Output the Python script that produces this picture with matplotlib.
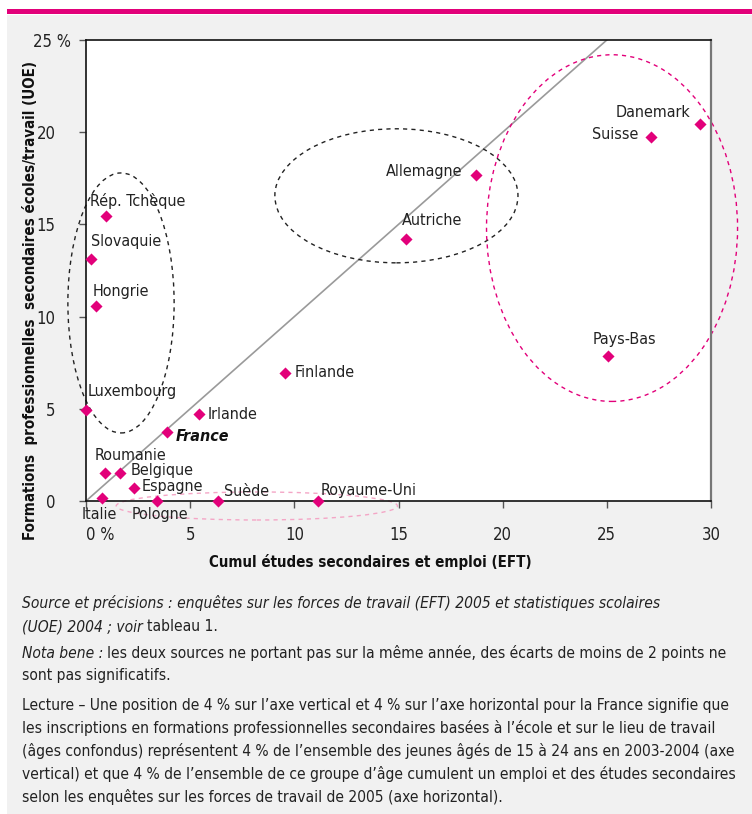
import matplotlib
matplotlib.use('Agg')
import matplotlib.pyplot as plt
from matplotlib.patches import Ellipse, Rectangle
from matplotlib.transforms import ScaledTranslation

plt.rcParams['font.family'] = ['DejaVu Sans']
plt.rcParams['font.stretch'] = 'condensed'

# data
pays = ['Rép. Tchèque', 'Slovaquie', 'Hongrie', 'Luxembourg', 'Irlande', 'France',
        'Roumanie', 'Belgique', 'Espagne', 'Italie', 'Pologne', 'Suède',
        'Royaume-Uni', 'Finlande', 'Allemagne', 'Autriche', 'Danemark',
        'Suisse', 'Pays-Bas']
eft = [0.95, 0.25, 0.5, 0.0, 5.4, 3.9, 0.9, 1.65, 2.3, 0.75, 3.4, 6.35,
       11.15, 9.55, 18.7, 15.35, 29.45, 27.1, 25.05]
uoe = [15.45, 13.1, 10.6, 4.95, 4.7, 3.75, 1.5, 1.5, 0.7, 0.15, 0.0, 0.0,
       0.0, 6.95, 17.7, 14.2, 20.45, 19.75, 7.85]
xticks = [0, 5, 10, 15, 20, 25, 30]
xticklabels = ['0 %', '5', '10', '15', '20', '25', '30']
yticks = [0, 5, 10, 15, 20, 25]
yticklabels = ['0', '5', '10', '15', '20', '25 %']

# label placement (pixel offsets from the marker, horizontal alignment)
label_pos = {
    'Rép. Tchèque': (-16, 15, 'left'), 'Slovaquie': (0, 18, 'left'),
    'Hongrie': (-4, 14, 'left'), 'Luxembourg': (2, 18, 'left'),
    'Irlande': (9, 0, 'left'), 'France': (8, -5, 'left'),
    'Roumanie': (-10, 18, 'left'), 'Belgique': (10, 3, 'left'),
    'Espagne': (8, 2, 'left'), 'Italie': (-20, -16, 'left'),
    'Pologne': (-25, -13, 'left'), 'Suède': (6, 10, 'left'),
    'Royaume-Uni': (2, 11, 'left'), 'Finlande': (10, 0, 'left'),
    'Allemagne': (-13, 3, 'right'), 'Autriche': (-4, 19, 'left'),
    'Danemark': (-9, 11, 'right'), 'Suisse': (-12, 2, 'right'),
    'Pays-Bas': (-15, 17, 'left'),
}

magenta = '#e2007a'
bg = '#f1f1f1'
W, H = 752, 814

fig = plt.figure(figsize=(W / 100, H / 100), dpi=100, facecolor='white')
fig.patches.append(Rectangle((7 / W, 0), 1, 1 - 15 / H, transform=fig.transFigure,
                             facecolor=bg, edgecolor='none', zorder=-10))
fig.patches.append(Rectangle((7 / W, 1 - 14 / H), 1, 5 / H, transform=fig.transFigure,
                             facecolor=magenta, edgecolor='none', zorder=-5))

ax = fig.add_axes([86 / W, 1 - 501 / H, 625 / W, 461 / H])
ax.set_facecolor('white')
ax.set_xlim(0, 30)
ax.set_ylim(0, 25)

ax.plot([0, 30], [0, 30], color='#9a9a9a', lw=1.2, zorder=1)

ax.add_patch(Ellipse((1.68, 10.74), 5.1, 14.1, fill=False, ls=(0, (3, 3)),
                     ec='#222222', lw=1.0, clip_on=False, zorder=2))
ax.add_patch(Ellipse((14.9, 16.55), 11.67, 7.27, fill=False, ls=(0, (3, 3)),
                     ec='#222222', lw=1.0, clip_on=False, zorder=2))
ax.add_patch(Ellipse((25.25, 14.8), 12.05, 18.8, fill=False, ls=(0, (3, 3)),
                     ec=magenta, lw=1.0, clip_on=False, zorder=2))
ax.add_patch(Ellipse((8.2, -0.27), 13.5, 1.52, fill=False, ls=(0, (3, 3)),
                     ec='#f4a6c6', lw=1.0, clip_on=False, zorder=2))

ax.scatter(eft, uoe, marker='D', s=38, color=magenta, zorder=5, clip_on=False,
           linewidths=0)

for name, x, y in zip(pays, eft, uoe):
    dx, dy, ha = label_pos[name]
    style = dict(fontsize=11.5, color='#222222')
    if name == 'France':
        style.update(fontweight='bold', fontstyle='italic', color='#111111')
    ax.annotate(name, (x, y), xytext=(dx, dy), textcoords='offset pixels',
                ha=ha, va='center', zorder=6, annotation_clip=False, **style)

ax.set_xticks(xticks)
ax.set_xticklabels(xticklabels, fontsize=12, color='#222222')
ax.set_yticks(yticks)
ax.set_yticklabels(yticklabels, fontsize=12, color='#222222')
ax.tick_params(axis='x', direction='out', length=5, width=1, pad=13, color='#555555')
ax.tick_params(axis='y', direction='out', length=5, width=1, pad=17, color='#555555')
ax.get_xticklabels()[0].set_horizontalalignment('left')
# the "%" of the top label sticks out to the right, as in the source
top = ax.get_yticklabels()[-1]
top.set_transform(top.get_transform() + ScaledTranslation(16 / 100, 0, fig.dpi_scale_trans))

for side in ['left', 'top', 'bottom']:
    ax.spines[side].set_color('#111111')
    ax.spines[side].set_linewidth(1.2)
ax.spines['right'].set_color('#777777')
ax.spines['right'].set_linewidth(1.6)

fig.text(30 / W, 1 - 300 / H,
         'Formations  professionnelles  secondaires écoles/travail (UOE)',
         rotation=90, ha='center', va='center', fontsize=10.8, fontweight='bold',
         color='#111111')
fig.text(370 / W, 1 - 562 / H, 'Cumul études secondaires et emploi (EFT)',
         ha='center', va='center', fontsize=10.8, fontweight='bold', color='#111111')

# footnotes, some lines mix italic and upright text
notes = [
    (603, [('Source et précisions : enquêtes sur les forces de travail (EFT) 2005 '
            'et statistiques scolaires', 'italic')]),
    (626, [('(UOE) 2004 ; voir', 'italic'), ('tableau 1.', 'normal')]),
    (653, [('Nota bene :', 'italic'),
           ('les deux sources ne portant pas sur la même année, des écarts de '
            'moins de 2 points ne', 'normal')]),
    (675, [('sont pas significatifs.', 'normal')]),
    (705, [('Lecture – Une position de 4 % sur l’axe vertical et 4 % sur l’axe '
            'horizontal pour la France signifie que', 'normal')]),
    (728, [('les inscriptions en formations professionnelles secondaires basées '
            'à l’école et sur le lieu de travail', 'normal')]),
    (751, [('(âges confondus) représentent 4 % de l’ensemble des jeunes âgés de '
            '15 à 24 ans en 2003-2004 (axe', 'normal')]),
    (774, [('vertical) et que 4 % de l’ensemble de ce groupe d’âge cumulent un '
            'emploi et des études secondaires', 'normal')]),
    (797, [('selon les enquêtes sur les forces de travail de 2005 (axe horizontal).',
            'normal')]),
]

renderer = fig.canvas.get_renderer()
for ypx, segments in notes:
    xpx = 22
    for txt, st in segments:
        t = fig.text(xpx / W, 1 - (ypx + 5) / H, txt, fontsize=11.2, fontstyle=st,
                     color='#222222', ha='left', va='baseline')
        xpx += t.get_window_extent(renderer).width + 4

fig.savefig('out.png', dpi=100, facecolor=fig.get_facecolor())
